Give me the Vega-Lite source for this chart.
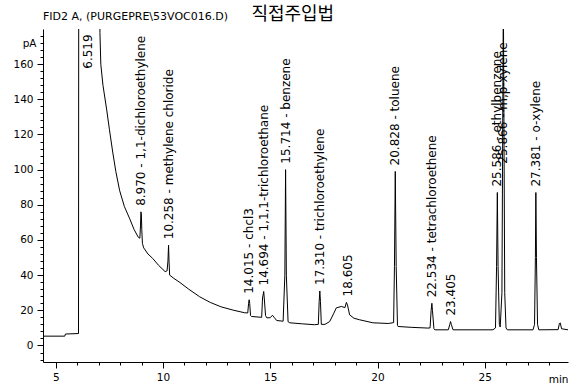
{
  "$schema": "https://vega.github.io/schema/vega-lite/v6.json",
  "width": 525,
  "height": 333,
  "autosize": {"type": "none"},
  "padding": {"left": 43, "top": 29, "right": 9, "bottom": 24},
  "background": "white",
  "config": {"view": {"stroke": null}},
  "datasets": {
    "trace": [
      {"t": 4.405, "v": 5.3}, {"t": 5.42, "v": 5.3}, {"t": 5.45, "v": 6.5}, {"t": 6.06, "v": 6.8},
      {"t": 6.08, "v": 400}, {"t": 7.04, "v": 400}, {"t": 7.06, "v": 178}, {"t": 7.1, "v": 160},
      {"t": 7.2, "v": 148}, {"t": 7.375, "v": 134}, {"t": 7.5, "v": 123}, {"t": 7.655, "v": 110},
      {"t": 7.8, "v": 99}, {"t": 7.98, "v": 88}, {"t": 8.2, "v": 79}, {"t": 8.45, "v": 72},
      {"t": 8.65, "v": 66}, {"t": 8.85, "v": 61.5}, {"t": 8.92, "v": 61}, {"t": 8.95, "v": 68},
      {"t": 8.97, "v": 76}, {"t": 8.99, "v": 75}, {"t": 9.01, "v": 66}, {"t": 9.04, "v": 58},
      {"t": 9.1, "v": 55.5}, {"t": 9.3, "v": 52}, {"t": 9.52, "v": 49.5}, {"t": 9.8, "v": 45.5},
      {"t": 10.1, "v": 42}, {"t": 10.19, "v": 42.5}, {"t": 10.23, "v": 48}, {"t": 10.258, "v": 57},
      {"t": 10.28, "v": 48}, {"t": 10.31, "v": 40}, {"t": 10.5, "v": 38.2}, {"t": 10.79, "v": 35.8},
      {"t": 11.2, "v": 32}, {"t": 11.71, "v": 27.7}, {"t": 12.2, "v": 24.5}, {"t": 12.7, "v": 22},
      {"t": 13.3, "v": 20}, {"t": 13.81, "v": 18.6}, {"t": 13.95, "v": 18.5}, {"t": 13.99, "v": 24},
      {"t": 14.015, "v": 26}, {"t": 14.04, "v": 24}, {"t": 14.08, "v": 17}, {"t": 14.12, "v": 16.5},
      {"t": 14.6, "v": 16}, {"t": 14.64, "v": 27}, {"t": 14.694, "v": 30.7}, {"t": 14.72, "v": 27},
      {"t": 14.78, "v": 17}, {"t": 14.84, "v": 15.7}, {"t": 15.0, "v": 15.8}, {"t": 15.1, "v": 17.2},
      {"t": 15.18, "v": 16}, {"t": 15.3, "v": 14.2}, {"t": 15.6, "v": 13.8}, {"t": 15.68, "v": 40},
      {"t": 15.714, "v": 100}, {"t": 15.75, "v": 40}, {"t": 15.83, "v": 13.5}, {"t": 15.91, "v": 12.9},
      {"t": 16.5, "v": 12.3}, {"t": 17.07, "v": 11.8}, {"t": 17.24, "v": 12}, {"t": 17.28, "v": 25},
      {"t": 17.31, "v": 31}, {"t": 17.34, "v": 25}, {"t": 17.38, "v": 12}, {"t": 17.55, "v": 12},
      {"t": 17.77, "v": 13.6}, {"t": 17.95, "v": 18}, {"t": 18.08, "v": 21.4}, {"t": 18.32, "v": 22.2},
      {"t": 18.48, "v": 21.5}, {"t": 18.55, "v": 24.5}, {"t": 18.6, "v": 23}, {"t": 18.7, "v": 17.4},
      {"t": 18.9, "v": 15.5}, {"t": 19.17, "v": 14.6}, {"t": 19.78, "v": 12.9}, {"t": 20.5, "v": 12.5},
      {"t": 20.75, "v": 13}, {"t": 20.79, "v": 45}, {"t": 20.828, "v": 99}, {"t": 20.87, "v": 45},
      {"t": 20.93, "v": 11.5}, {"t": 20.96, "v": 10.8}, {"t": 21.6, "v": 10.3}, {"t": 22.35, "v": 9.9},
      {"t": 22.45, "v": 10}, {"t": 22.5, "v": 20}, {"t": 22.534, "v": 24}, {"t": 22.56, "v": 20},
      {"t": 22.63, "v": 9.5}, {"t": 22.67, "v": 8.9}, {"t": 23.3, "v": 8.9}, {"t": 23.37, "v": 12},
      {"t": 23.405, "v": 13.6}, {"t": 23.44, "v": 12}, {"t": 23.52, "v": 8.9}, {"t": 25.38, "v": 8.9},
      {"t": 25.5, "v": 10}, {"t": 25.55, "v": 45}, {"t": 25.586, "v": 87}, {"t": 25.62, "v": 45},
      {"t": 25.68, "v": 12}, {"t": 25.72, "v": 10.5}, {"t": 25.8, "v": 30}, {"t": 25.866, "v": 200},
      {"t": 25.93, "v": 30}, {"t": 25.99, "v": 10}, {"t": 26.05, "v": 8.9}, {"t": 27.25, "v": 8.9},
      {"t": 27.32, "v": 12}, {"t": 27.36, "v": 50}, {"t": 27.381, "v": 87}, {"t": 27.41, "v": 50},
      {"t": 27.46, "v": 12}, {"t": 27.52, "v": 8.9}, {"t": 28.42, "v": 9}, {"t": 28.48, "v": 12.5},
      {"t": 28.52, "v": 12.8}, {"t": 28.58, "v": 9.5}, {"t": 28.88, "v": 8.9}
    ],
    "peaks": [
      {"t": 6.519, "v": 154, "label": "6.519"},
      {"t": 8.97, "v": 76, "label": "8.970 -  1,1-dichloroethylene"},
      {"t": 10.258, "v": 57, "label": "10.258 -  methylene chloride"},
      {"t": 14.015, "v": 26, "label": "14.015 -  chcl3"},
      {"t": 14.694, "v": 30.7, "label": "14.694 -  1,1,1-trichloroethane"},
      {"t": 15.714, "v": 100, "label": "15.714 -  benzene"},
      {"t": 17.31, "v": 31, "label": "17.310 -  trichloroethylene"},
      {"t": 18.605, "v": 24.5, "label": "18.605"},
      {"t": 20.828, "v": 99, "label": "20.828 -  toluene"},
      {"t": 22.534, "v": 24, "label": "22.534 -  tetrachloroethene"},
      {"t": 23.405, "v": 13.6, "label": "23.405"},
      {"t": 25.586, "v": 87, "label": "25.586 -  ethylbenzene"},
      {"t": 25.866, "v": 100, "label": "25.866 -  m,p-xylene"},
      {"t": 27.381, "v": 87, "label": "27.381 -  o-xylene"}
    ]
  },
  "layer": [
    {
      "data": {"name": "trace"},
      "mark": {"type": "line", "color": "#000", "strokeWidth": 1, "clip": true},
      "encoding": {
        "x": {
          "field": "t", "type": "quantitative",
          "scale": {"domain": [4.405, 28.88], "nice": false, "zero": false},
          "axis": {
            "values": [5,6,7,8,9,10,11,12,13,14,15,16,17,18,19,20,21,22,23,24,25,26,27,28],
            "tickCount": 200,
            "format": "d",
            "labelExpr": "datum.value % 5 === 0 ? datum.label : ''",
            "labelOverlap": false,
            "tickSize": {"condition": {"test": "datum.value % 5 === 0", "value": 6}, "value": 3},
            "grid": false,
            "domainColor": "#000",
            "tickColor": "#000",
            "labelColor": "#000",
            "labelFont": "DejaVu Sans",
            "labelFontSize": 10.5,
            "labelPadding": 4,
            "labelFlush": false,
            "title": "min",
            "titleFont": "DejaVu Sans",
            "titleFontSize": 10.5,
            "titleFontWeight": "normal",
            "titleColor": "#000",
            "titleAnchor": "end",
            "titleAlign": "right",
            "titleBaseline": "top",
            "titleX": 525,
            "titleY": 12
          }
        },
        "y": {
          "field": "v", "type": "quantitative",
          "scale": {"domain": [-9.4, 180], "nice": false, "zero": false},
          "axis": {
            "values": [-8,-4,0,4,8,12,16,20,24,28,32,36,40,44,48,52,56,60,64,68,72,76,80,84,88,92,96,100,104,108,112,116,120,124,128,132,136,140,144,148,152,156,160,164,168,172,176],
            "tickCount": 200,
            "format": "d",
            "labelExpr": "datum.value === 172 ? 'pA' : (datum.value % 20 === 0 && datum.value >= 0 ? datum.label : '')",
            "labelOverlap": false,
            "tickSize": {"condition": {"test": "datum.value % 20 === 0", "value": 6}, "value": 3},
            "grid": false,
            "domainColor": "#000",
            "tickColor": "#000",
            "labelColor": "#000",
            "labelFont": "DejaVu Sans",
            "labelFontSize": 10.5,
            "labelPadding": 4,
            "labelFlush": false,
            "title": null
          }
        }
      }
    },
    {
      "data": {"name": "peaks"},
      "mark": {"type": "text", "angle": 270, "align": "left", "baseline": "middle", "dx": 6, "font": "DejaVu Sans", "fontSize": 12, "color": "#000"},
      "encoding": {
        "x": {"field": "t", "type": "quantitative"},
        "y": {"field": "v", "type": "quantitative"},
        "text": {"field": "label"}
      }
    },
    {
      "data": {"values": [{}]},
      "mark": {"type": "text", "text": "FID2 A, (PURGEPRE\\53VOC016.D)", "align": "left", "baseline": "middle", "font": "DejaVu Sans", "fontSize": 11, "color": "#000", "clip": false},
      "encoding": {
        "x": {"datum": 4.405, "type": "quantitative"},
        "y": {"datum": 187, "type": "quantitative"}
      }
    },
    {
      "data": {"values": [{}]},
      "mark": {"type": "text", "text": "직접주입법", "align": "center", "baseline": "middle", "font": "Noto Sans CJK KR", "fontSize": 18, "color": "#000", "clip": false},
      "encoding": {
        "x": {"datum": 16.05, "type": "quantitative"},
        "y": {"datum": 188, "type": "quantitative"}
      }
    }
  ]
}
